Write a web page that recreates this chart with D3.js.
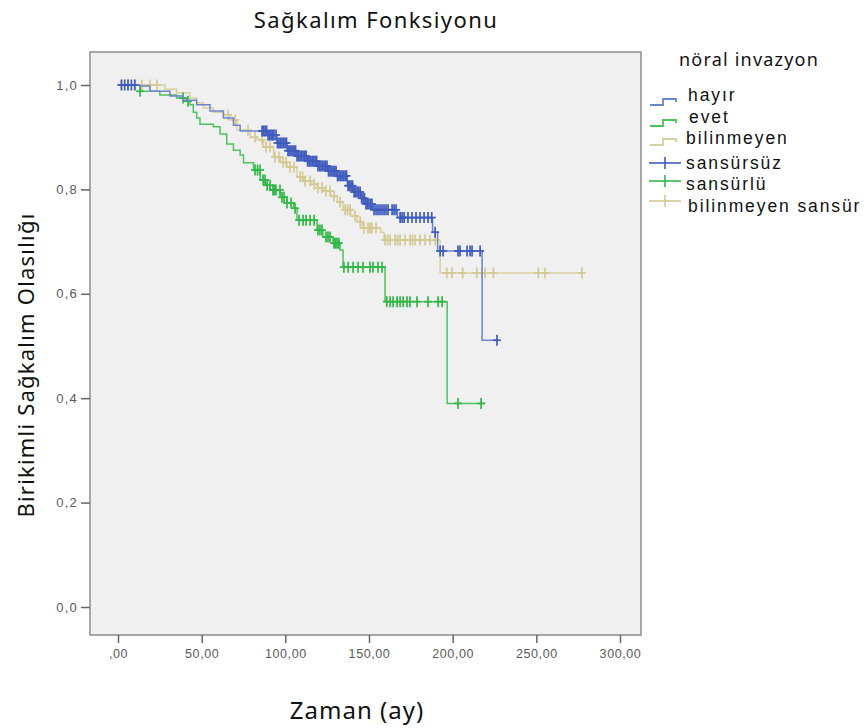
<!DOCTYPE html>
<html><head><meta charset="utf-8">
<script src="https://cdn.jsdelivr.net/npm/d3@7"></script>
<style>body{margin:0;background:#fff;} svg{display:block;}</style>
</head><body><svg id="c" width="865" height="728"></svg>
<script>
// ---- data ----
const xTicks = [0, 50, 100, 150, 200, 250, 300];
const xTickLabels = [",00", "50,00", "100,00", "150,00", "200,00", "250,00", "300,00"];
const yTicks = [0, 0.2, 0.4, 0.6, 0.8, 1.0];
const yTickLabels = ["0,0", "0,2", "0,4", "0,6", "0,8", "1,0"];
const seriesNames = ["hayır", "evet", "bilinmeyen"];
const censorNames = ["sansürsüz", "sansürlü", "bilinmeyen sansür"];

// hayır
const hayirTimes = [0, 13, 19, 31, 39, 47, 55, 63, 69, 73, 89, 95, 101, 107, 113, 119, 125, 131, 137, 140.5, 145, 148, 152, 167, 188, 191, 217.6];
const hayirSurv  = [1.0, 0.998, 0.988, 0.979, 0.971, 0.962, 0.950, 0.937, 0.923, 0.912, 0.904, 0.889, 0.874, 0.864, 0.854, 0.845, 0.835, 0.826, 0.807, 0.795, 0.783, 0.772, 0.761, 0.746, 0.718, 0.682, 0.511];
const hayirEnd = 226.5;
const hayirCensor = [2, 4, 6, 8, 10, 86.1, 87.0, 87.9, 88.8, 89.7, 90.6, 91.5, 92.4, 93.2, 94.4, 95.3, 96.2, 97.1, 98.0, 98.9, 99.8, 100.7, 101.6, 102.5, 103.4, 104.3, 105.2, 106.1, 107.0, 107.9, 108.8, 109.7, 110.6, 111.5, 112.4, 113.3, 114.2, 115.1, 116.0, 116.9, 117.8, 118.7, 119.5, 120.4, 121.3, 122.2, 123.1, 124.0, 124.9, 125.8, 126.7, 127.6, 128.5, 129.4, 130.3, 131.2, 132.1, 133.0, 133.9, 134.8, 135.7, 136.6, 137.5, 138.4, 139.3, 140.2, 141.1, 142.0, 142.9, 143.8, 144.7, 145.6, 146.4, 147.3, 148.2, 149.1, 150.0, 150.9, 151.8, 153.0, 154.2, 155.4, 156.6, 157.8, 159.0, 160.2, 161.4, 163.8, 165.0, 166.2, 168.6, 169.8, 171.0, 173.3, 175.7, 178.1, 180.5, 182.9, 185.3, 187.5, 189.5, 192.5, 194.3, 203.2, 204.4, 208.6, 210.4, 211.6, 216.4, 226.5];

// evet
const evetTimes = [0, 13, 25, 35, 41, 43, 45, 47, 49, 57, 61, 65, 69, 73, 75, 81, 85, 88, 91, 97, 101, 105, 107, 119, 122.5, 128.5, 132.7, 134.5, 159.6, 196.7];
const evetSurv  = [1.0, 0.988, 0.981, 0.975, 0.969, 0.962, 0.948, 0.937, 0.925, 0.920, 0.906, 0.887, 0.875, 0.866, 0.851, 0.837, 0.818, 0.808, 0.799, 0.785, 0.774, 0.764, 0.741, 0.722, 0.709, 0.697, 0.684, 0.651, 0.585, 0.390];
const evetEnd = 219.4;
const evetCensor = [13.2, 38.9, 41.8, 81.9, 83.4, 84.9, 86.7, 87.9, 89.1, 90.9, 92.6, 93.5, 94.4, 96.8, 98.0, 99.2, 101.0, 103.4, 105.8, 108.2, 110.6, 112.4, 114.8, 117.2, 119.5, 120.7, 121.9, 124.3, 125.5, 126.7, 129.1, 130.0, 130.9, 132.0, 135.0, 137.5, 140.5, 143.5, 146.4, 150.6, 152.4, 155.4, 157.8, 160.6, 162.6, 164.4, 166.8, 168.6, 170.4, 172.7, 174.5, 178.7, 185.3, 191.3, 193.7, 203.2, 217.0];

// bilinmeyen
const bilTimes = [0, 28, 35, 43, 47, 51, 57, 63, 67, 71, 79, 83, 87, 93, 97, 101, 107, 111, 115, 119, 123, 127, 131, 134.5, 139, 143, 146, 157, 159, 192.5];
const bilSurv  = [1.0, 0.992, 0.985, 0.975, 0.966, 0.956, 0.948, 0.943, 0.933, 0.914, 0.900, 0.895, 0.881, 0.862, 0.852, 0.843, 0.824, 0.816, 0.810, 0.803, 0.797, 0.787, 0.776, 0.761, 0.749, 0.738, 0.726, 0.718, 0.703, 0.640];
const bilEnd = 278;
const bilCensor = [2.4, 6.0, 10.2, 14.3, 19.1, 23.3, 65.8, 70.0, 77.7, 81.9, 86.1, 88.5, 90.9, 93.8, 96.2, 98.6, 100.5, 102.8, 105.2, 108.8, 110.3, 111.8, 114.8, 117.2, 119.5, 121.9, 124.3, 126.7, 129.1, 132.7, 135.7, 137.2, 138.7, 141.7, 144.7, 147.0, 149.4, 150.6, 151.8, 154.2, 159.6, 161.1, 162.6, 165.6, 167.1, 168.6, 171.5, 174.5, 176.0, 177.5, 180.5, 183.5, 186.5, 189.5, 196.5, 199.5, 206.0, 214.4, 217.4, 219.4, 224.3, 251.2, 255.2, 277.2];

const lineColors = ["#6d84cf", "#4cc35c", "#d8cf9f"];
const markColors = ["#3f5bbf", "#2fb845", "#d4c992"];

// ---- drawing ----
const svg = d3.select("#c");
const x = d3.scaleLinear().domain([0, 300]).range([118, 620]);
const y = d3.scaleLinear().domain([0, 1]).range([607, 85]);
const frame = {x0: 90, x1: 641, y0: 52, y1: 635};

svg.append("rect").attr("x", frame.x0).attr("y", frame.y0)
  .attr("width", frame.x1 - frame.x0).attr("height", frame.y1 - frame.y0)
  .attr("fill", "#f0f0f0").attr("stroke", "#8c8c8c").attr("stroke-width", 1.5);

// axes
const xAxis = d3.axisBottom(x).tickValues(xTicks).tickSize(8).tickPadding(6)
  .tickFormat((d, i) => xTickLabels[i]);
const gx = svg.append("g").attr("transform", `translate(0,${frame.y1})`).call(xAxis);
gx.select(".domain").remove();
const yAxis = d3.axisLeft(y).tickValues(yTicks).tickSize(9).tickPadding(3)
  .tickFormat((d, i) => yTickLabels[i]);
const gy = svg.append("g").attr("transform", `translate(${frame.x0},0)`).call(yAxis);
gy.select(".domain").remove();
[gx, gy].forEach(g => {
  g.selectAll(".tick line").attr("stroke", "#666").attr("stroke-width", 1.5);
  g.selectAll(".tick text").attr("fill", "#5a5a5a").style("font-family", "Liberation Sans, Arial, sans-serif")
    .style("font-size", "12.5px").style("letter-spacing", "0.6px");
});
gy.selectAll(".tick text").style("font-size", "13px").style("letter-spacing", "1.2px");

const series = [
  {times: hayirTimes, surv: hayirSurv, end: hayirEnd, cens: hayirCensor},
  {times: evetTimes, surv: evetSurv, end: evetEnd, cens: evetCensor},
  {times: bilTimes, surv: bilSurv, end: bilEnd, cens: bilCensor}
];
const line = d3.line().x(d => x(d[0])).y(d => y(d[1])).curve(d3.curveStepAfter);
function survAt(s, t) {
  const i = d3.bisectRight(s.times, t) - 1;
  return s.surv[Math.max(0, i)];
}
// draw order: bilinmeyen, evet, hayır
[2, 1, 0].forEach(k => {
  const s = series[k];
  const pts = s.times.map((t, i) => [t, s.surv[i]]);
  pts.push([s.end, s.surv[s.surv.length - 1]]);
  svg.append("path").datum(pts).attr("d", line).attr("fill", "none")
    .attr("stroke", lineColors[k]).attr("stroke-width", 1.5);
  const g = svg.append("g").attr("stroke", markColors[k]).attr("stroke-width", 1.7);
  s.cens.forEach(t => {
    const cx = x(t), cy = y(survAt(s, t));
    g.append("line").attr("x1", cx).attr("x2", cx).attr("y1", cy - 5.5).attr("y2", cy + 5.5);
    g.append("line").attr("x1", cx - 4).attr("x2", cx + 4).attr("y1", cy).attr("y2", cy);
  });
});

// titles
const font = "'Noto Sans', 'Open Sans', sans-serif";
svg.append("text").attr("x", 376).attr("y", 28).attr("text-anchor", "middle")
  .style("font-family", font).style("font-size", "22px").style("letter-spacing", "1.4px")
  .attr("fill", "#111").text("Sağkalım Fonksiyonu");
svg.append("text").attr("x", 357).attr("y", 719).attr("text-anchor", "middle")
  .style("font-family", font).style("font-size", "24px").style("letter-spacing", "1px")
  .attr("fill", "#111").text("Zaman (ay)");
svg.append("text").attr("transform", "translate(34,365) rotate(-90)").attr("text-anchor", "middle")
  .style("font-family", font).style("font-size", "22px").style("letter-spacing", "1.2px")
  .attr("fill", "#111").text("Birikimli Sağkalım Olasılığı");

// legend
const lg = svg.append("g").attr("fill", "#111");
lg.append("text").attr("x", 679).attr("y", 66).style("font-family", font).style("font-size", "18px").style("letter-spacing", "1.2px").text("nöral invazyon");
const stepY = [105, 126, 145];
stepY.forEach((yy, k) => {
  lg.append("path").attr("d", `M650,${yy} H663 V${yy - 6} H676 V${yy - 3}`)
    .attr("fill", "none").attr("stroke", lineColors[k]).attr("stroke-width", 1.8);
});
const crossY = [163, 181, 201];
crossY.forEach((yy, k) => {
  lg.append("line").attr("x1", 649).attr("x2", 681).attr("y1", yy).attr("y2", yy).attr("stroke", markColors[k]).attr("stroke-width", 1.6);
  lg.append("line").attr("x1", 665).attr("x2", 665).attr("y1", yy - 6).attr("y2", yy + 6).attr("stroke", markColors[k]).attr("stroke-width", 1.6);
});
const labelY = [101, 123, 144, 169, 190, 212];
const labelX = [688, 689, 686, 686, 686, 688];
const labels = seriesNames.concat(censorNames);
labels.forEach((t, i) => {
  lg.append("text").attr("x", labelX[i]).attr("y", labelY[i])
    .style("font-family", "'Liberation Sans', Arial, sans-serif")
    .style("font-size", "17.5px").style("letter-spacing", "1.9px").text(t);
});
</script></body></html>
